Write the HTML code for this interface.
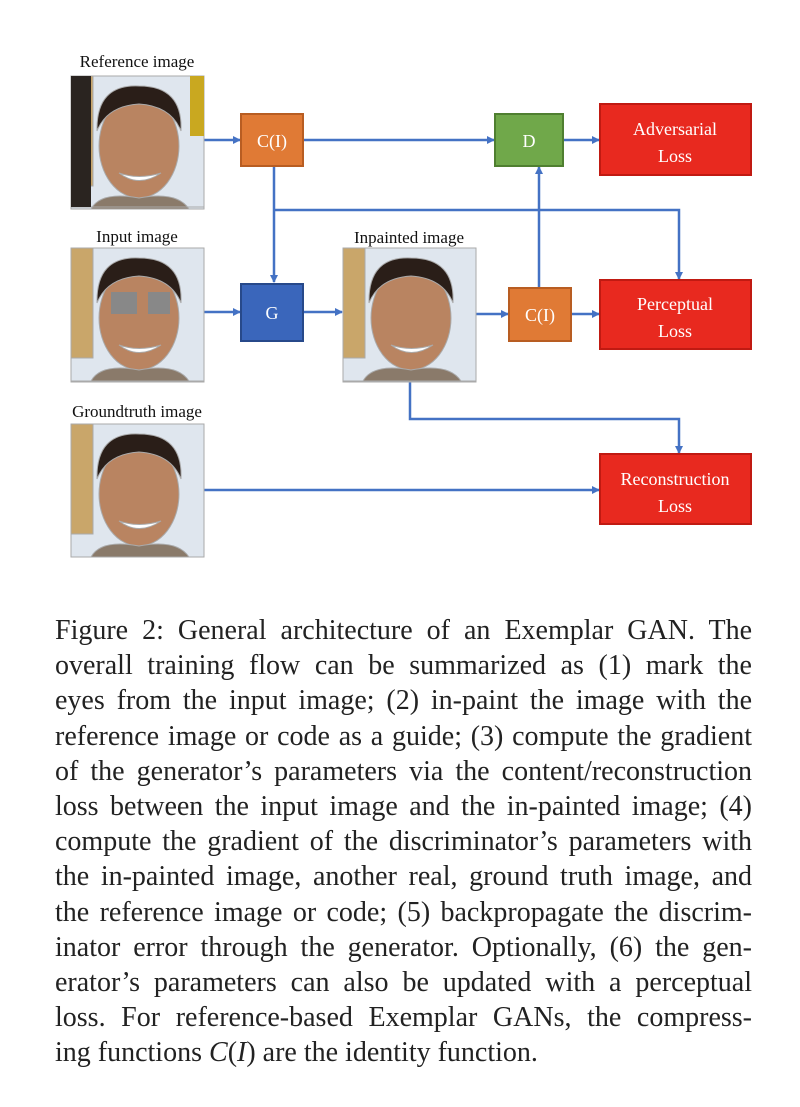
<!DOCTYPE html>
<html><head><meta charset="utf-8"><style>
body{margin:0;background:#fff;width:800px;height:1107px;overflow:hidden;position:relative;font-family:"Liberation Serif",serif}
.cap{position:absolute;left:55px;top:613px;width:697px;font-size:28px;line-height:35.2px;color:#222}
.cap div{text-align:justify;text-align-last:justify;white-space:nowrap}
.cap div.l{text-align-last:left}
</style></head><body>
<svg width="800" height="600" style="position:absolute;left:0;top:0" font-family="Liberation Serif, serif">
<defs>
<marker id="a" markerWidth="8" markerHeight="8" refX="7" refY="4" orient="auto" markerUnits="userSpaceOnUse"><path d="M0,0 L8,4 L0,8z" fill="#4472c4"/></marker>
<g id="face">
<rect width="133" height="133" fill="#dfe6ee"/>
<rect x="0" y="0" width="22" height="110" fill="#c9a66a"/>
<ellipse cx="68" cy="70" rx="40" ry="52" fill="#b98461"/>
<path d="M26,55 Q25,8 68,10 Q112,10 110,55 Q100,30 68,28 Q36,30 26,55z" fill="#2a1e18"/>
<path d="M48,97 Q68,112 90,97 Q68,104 48,97z" fill="#fff"/>
<path d="M20,133 Q30,115 68,122 Q106,115 118,133z" fill="#8a7a6a"/>
</g>
</defs>
<g stroke="#4472c4" stroke-width="2.5" fill="none">
<line x1="204" y1="140" x2="240" y2="140" marker-end="url(#a)"/>
<line x1="303" y1="140" x2="494" y2="140" marker-end="url(#a)"/>
<line x1="563" y1="140" x2="599" y2="140" marker-end="url(#a)"/>
<line x1="274" y1="166" x2="274" y2="282" marker-end="url(#a)"/>
<polyline points="274,210 679,210 679,279" marker-end="url(#a)"/>
<line x1="539" y1="288" x2="539" y2="167" marker-end="url(#a)"/>
<line x1="204" y1="312" x2="240" y2="312" marker-end="url(#a)"/>
<line x1="303" y1="312" x2="342" y2="312" marker-end="url(#a)"/>
<line x1="476" y1="314" x2="508" y2="314" marker-end="url(#a)"/>
<line x1="571" y1="314" x2="599" y2="314" marker-end="url(#a)"/>
<polyline points="410,382 410,419 679,419 679,453" marker-end="url(#a)"/>
<line x1="204" y1="490" x2="599" y2="490" marker-end="url(#a)"/>
</g>
<g stroke="#aaa" stroke-width="1">
<use href="#face" x="71" y="76"/><rect x="71" y="76" width="133" height="131" fill="none"/>
<use href="#face" x="71" y="248"/><rect x="71" y="248" width="133" height="134" fill="none"/>
<use href="#face" x="343" y="248"/><rect x="343" y="248" width="133" height="134" fill="none"/>
<use href="#face" x="71" y="424"/><rect x="71" y="424" width="133" height="133" fill="none"/>
</g>
<rect x="111" y="292" width="26" height="22" fill="#888"/><rect x="148" y="292" width="22" height="22" fill="#888"/>
<rect x="71" y="76" width="20" height="131" fill="#2a2420"/><rect x="190" y="76" width="14" height="60" fill="#c9a820"/>
<g font-size="18" fill="#fff" text-anchor="middle">
<rect x="241" y="114" width="62" height="52" fill="#e07a35" stroke="#b85d22" stroke-width="2"/><text x="272" y="147">C(I)</text>
<rect x="495" y="114" width="68" height="52" fill="#70a84a" stroke="#4f7f30" stroke-width="2"/><text x="529" y="147">D</text>
<rect x="241" y="284" width="62" height="57" fill="#3a66bb" stroke="#27498a" stroke-width="2"/><text x="272" y="319">G</text>
<rect x="509" y="288" width="62" height="53" fill="#e07a35" stroke="#b85d22" stroke-width="2"/><text x="540" y="321">C(I)</text>
<rect x="600" y="104" width="151" height="71" fill="#e8291f" stroke="#c01a12" stroke-width="2"/><text x="675" y="135">Adversarial</text><text x="675" y="162">Loss</text>
<rect x="600" y="280" width="151" height="69" fill="#e8291f" stroke="#c01a12" stroke-width="2"/><text x="675" y="310">Perceptual</text><text x="675" y="337">Loss</text>
<rect x="600" y="454" width="151" height="70" fill="#e8291f" stroke="#c01a12" stroke-width="2"/><text x="675" y="485">Reconstruction</text><text x="675" y="512">Loss</text>
</g>
<g font-size="17" fill="#111" text-anchor="middle">
<text x="137" y="67">Reference image</text>
<text x="137" y="242">Input image</text>
<text x="409" y="243">Inpainted image</text>
<text x="137" y="417">Groundtruth image</text>
</g>
</svg>
<div class="cap">
<div>Figure 2: General architecture of an Exemplar GAN. The</div>
<div>overall training flow can be summarized as (1) mark the</div>
<div>eyes from the input image; (2) in-paint the image with the</div>
<div>reference image or code as a guide; (3) compute the gradient</div>
<div>of the generator’s parameters via the content/reconstruction</div>
<div>loss between the input image and the in-painted image; (4)</div>
<div>compute the gradient of the discriminator’s parameters with</div>
<div>the in-painted image, another real, ground truth image, and</div>
<div>the reference image or code; (5) backpropagate the discrim-</div>
<div>inator error through the generator. Optionally, (6) the gen-</div>
<div>erator’s parameters can also be updated with a perceptual</div>
<div>loss. For reference-based Exemplar GANs, the compress-</div>
<div class="l">ing functions <i>C</i>(<i>I</i>) are the identity function.</div>
</div>
</body></html>
